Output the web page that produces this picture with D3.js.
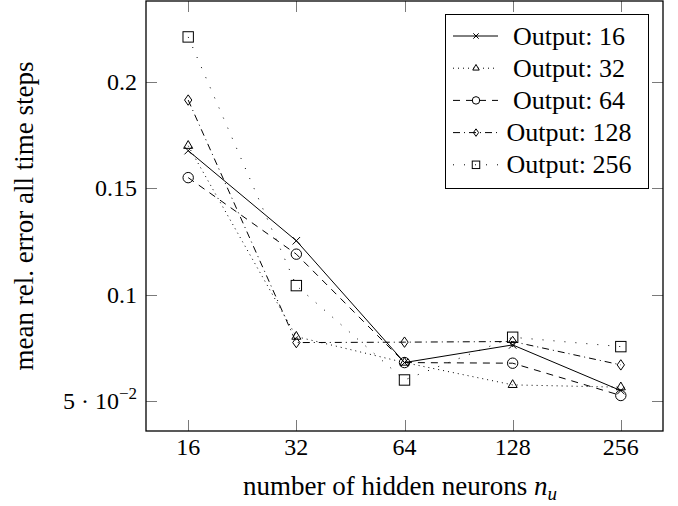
<!DOCTYPE html>
<html>
<head>
<meta charset="utf-8">
<script src="https://cdn.jsdelivr.net/npm/d3@7"></script>
<style>
  body { margin: 0; background: #fff; }
</style>
</head>
<body>
<div class="chart"></div>
<script>
// hidden neurons on the x axis
var categories = ["16", "32", "64", "128", "256"]

// one series per output size
var seriesNames = ["Output: 16", "Output: 32", "Output: 64", "Output: 128", "Output: 256"]
var out16  = [0.1677, 0.1253, 0.0680, 0.0763, 0.0548]
var out32  = [0.1700, 0.0802, 0.0680, 0.0575, 0.0564]
var out64  = [0.1550, 0.1190, 0.0680, 0.0677, 0.0525]
var out128 = [0.1915, 0.0774, 0.0776, 0.0779, 0.0669]
var out256 = [0.2212, 0.1042, 0.0598, 0.0799, 0.0755]

var yTicks = [0.05, 0.1, 0.15, 0.2]
var yTickLabels = ["5·10^-2", "0.1", "0.15", "0.2"]

var serif = "'Liberation Serif', 'Times New Roman', Times, 'DejaVu Serif', serif"

document.addEventListener("DOMContentLoaded", draw)

function draw(){
  var width = 678,
      height = 506,
      left = 146, right = 663, top = 1, bottom = 431

  var svg = d3.select(".chart").append("svg")
    .attr("width", width)
    .attr("height", height)
    .attr("font-family", serif)

  var x = d3.scalePoint()
    .domain(categories)
    .range([left, right])
    .padding(0.39)

  var y = d3.scaleLinear()
    .domain([0.0358, 0.2381])
    .range([bottom, top])

  var styles = [
    {dash: null,        mark: "cross"},
    {dash: "1,4",       mark: "triangle"},
    {dash: "7,6",       mark: "circle"},
    {dash: "7,4,1,4",   mark: "diamond"},
    {dash: "1,10",      mark: "square"}
  ]
  var allSeries = [out16, out32, out64, out128, out256]

  // ticks, inside on all four sides
  var tickLen = 11
  var ticks = svg.append("g").attr("stroke", "#7a7a7a").attr("stroke-width", 1)
  categories.forEach(function(c){
    var px = Math.round(x(c)) + 0.5
    ticks.append("line").attr("x1", px).attr("x2", px).attr("y1", bottom).attr("y2", bottom - tickLen)
    ticks.append("line").attr("x1", px).attr("x2", px).attr("y1", top).attr("y2", top + tickLen)
  })
  yTicks.forEach(function(v){
    var py = Math.round(y(v)) + 0.5
    ticks.append("line").attr("x1", left).attr("x2", left + tickLen).attr("y1", py).attr("y2", py)
    ticks.append("line").attr("x1", right).attr("x2", right - tickLen).attr("y1", py).attr("y2", py)
  })

  // x tick labels
  svg.append("g").selectAll("text")
    .data(categories)
    .enter().append("text")
    .attr("x", function(d){ return x(d) })
    .attr("y", 455)
    .attr("text-anchor", "middle")
    .attr("font-size", 24)
    .text(function(d){ return d })

  // y tick labels
  var yl = svg.append("g")
  yTicks.forEach(function(v, i){
    var lab = yTickLabels[i]
    var t = yl.append("text")
      .attr("x", 137)
      .attr("y", y(v) + 8)
      .attr("text-anchor", "end")
      .attr("font-size", 24)
    if (lab.indexOf("^") >= 0) {
      var parts = lab.split("^")
      t.append("tspan").text(parts[0].replace("·", " · "))
      t.append("tspan").attr("dy", -10).attr("font-size", 17).text(parts[1].replace("-", "\u2212"))
    } else {
      t.text(lab)
    }
  })

  // lines
  var line = d3.line()
    .x(function(d, i){ return x(categories[i]) })
    .y(function(d){ return y(d) })

  var plot = svg.append("g")
  allSeries.forEach(function(s, k){
    plot.append("path")
      .attr("d", line(s))
      .attr("fill", "none")
      .attr("stroke", "#000")
      .attr("stroke-width", 1)
      .attr("stroke-dasharray", styles[k].dash)
  })
  allSeries.forEach(function(s, k){
    s.forEach(function(v, i){
      marker(plot, styles[k].mark, x(categories[i]), y(v), 1)
    })
  })

  // frame
  svg.append("rect")
    .attr("x", left).attr("y", top)
    .attr("width", right - left).attr("height", bottom - top)
    .attr("fill", "none")
    .attr("stroke", "#000")
    .attr("stroke-width", 1.3)

  // legend
  var lg = svg.append("g")
  lg.append("rect")
    .attr("x", 445.5).attr("y", 14.5)
    .attr("width", 203).attr("height", 174)
    .attr("fill", "#fff")
    .attr("stroke", "#000")
    .attr("stroke-width", 1)
  seriesNames.forEach(function(name, k){
    var cy = 36 + k * 32.2
    lg.append("line")
      .attr("x1", 453).attr("x2", 498)
      .attr("y1", cy).attr("y2", cy)
      .attr("stroke", "#000")
      .attr("stroke-width", 1)
      .attr("stroke-dasharray", styles[k].dash)
    marker(lg, styles[k].mark, 476, cy, 0.72)
    lg.append("text")
      .attr("x", 569)
      .attr("y", cy + 8.5)
      .attr("text-anchor", "middle")
      .attr("font-size", 26)
      .text(name)
  })

  // axis titles
  var xt = svg.append("text")
    .attr("x", 400)
    .attr("y", 495)
    .attr("text-anchor", "middle")
    .attr("font-size", 27)
  xt.append("tspan").text("number of hidden neurons ")
  xt.append("tspan").attr("font-style", "italic").text("n")
  xt.append("tspan").attr("font-style", "italic").attr("font-size", 19).attr("dy", 5).text("u")

  svg.append("text")
    .attr("transform", "translate(33,216) rotate(-90)")
    .attr("text-anchor", "middle")
    .attr("font-size", 27)
    .text("mean rel. error all time steps")
}

function marker(g, type, cx, cy, sc){
  var r = 5.2 * sc
  var m
  if (type === "circle") {
    m = g.append("circle").attr("cx", cx).attr("cy", cy).attr("r", r)
  } else if (type === "square") {
    m = g.append("rect").attr("x", cx - r).attr("y", cy - r).attr("width", 2 * r).attr("height", 2 * r)
  } else if (type === "triangle") {
    m = g.append("path").attr("d", "M" + cx + "," + (cy - r) + "L" + (cx + r * 0.87) + "," + (cy + r * 0.5) + "L" + (cx - r * 0.87) + "," + (cy + r * 0.5) + "Z")
  } else if (type === "diamond") {
    m = g.append("path").attr("d", "M" + cx + "," + (cy - r) + "L" + (cx + r * 0.7) + "," + cy + "L" + cx + "," + (cy + r) + "L" + (cx - r * 0.7) + "," + cy + "Z")
  } else {
    var a = r * 0.72
    m = g.append("path").attr("d", "M" + (cx - a) + "," + (cy - a) + "L" + (cx + a) + "," + (cy + a) + "M" + (cx - a) + "," + (cy + a) + "L" + (cx + a) + "," + (cy - a))
  }
  m.attr("fill", "none").attr("stroke", "#000").attr("stroke-width", 1)
}
</script>
</body>
</html>
